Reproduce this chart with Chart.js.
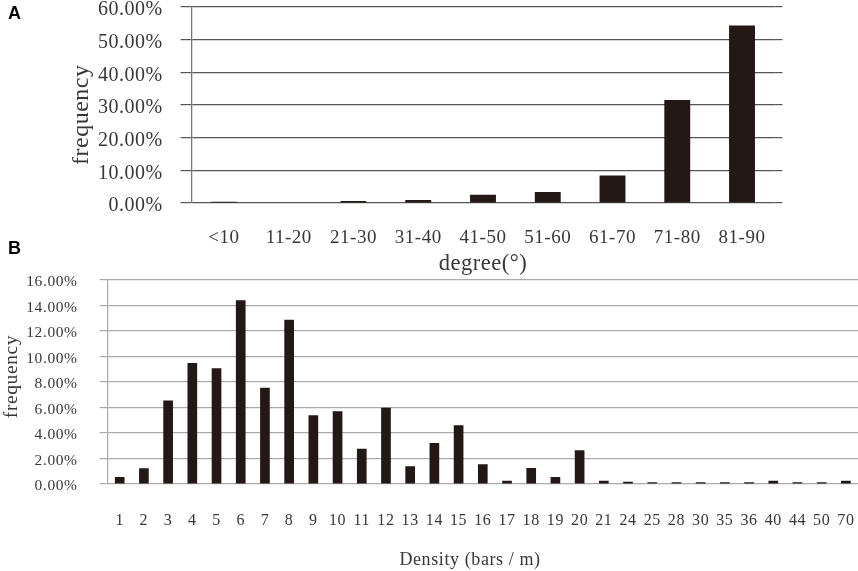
<!DOCTYPE html>
<html>
<head>
<meta charset="utf-8">
<script src="https://cdn.jsdelivr.net/npm/chart.js@4"></script>
<style>
  html, body { margin: 0; padding: 0; background: #fff; }
  #wrap { position: relative; width: 858px; height: 571px; overflow: hidden; }
  canvas { position: absolute; left: 0; }
  #chartA { top: 0; }
  #chartB { top: 268px; }
  .panel { position: absolute; left: 8px; font: bold 18px "Liberation Sans", sans-serif; color: #000; line-height: 18px; }
</style>
</head>
<body>
<div id="wrap">
  <canvas id="chartA" width="858" height="278"></canvas>
  <canvas id="chartB" width="858" height="303"></canvas>
  <div class="panel" style="top:4px">A</div>
  <div class="panel" style="top:239px">B</div>
</div>
<script>
const degreeLabels = ['<10', '11-20', '21-30', '31-40', '41-50', '51-60', '61-70', '71-80', '81-90'];
const degreeValues = [0.4, 0, 0.6, 0.9, 2.5, 3.4, 8.4, 31.5, 54.3];

const densityLabels = ['1', '2', '3', '4', '5', '6', '7', '8', '9', '10', '11', '12', '13', '14', '15', '16',
  '17', '18', '19', '20', '21', '24', '25', '28', '30', '35', '36', '40', '44', '50', '70'];
const densityValues = [0.55, 1.23, 6.55, 9.5, 9.08, 14.42, 7.54, 12.88, 5.39, 5.7, 2.77, 5.99, 1.39, 3.22, 4.6, 1.54,
  0.26, 1.26, 0.55, 2.64, 0.26, 0.18, 0.14, 0.14, 0.14, 0.14, 0.14, 0.26, 0.14, 0.14, 0.26];

const serif = '"Liberation Serif", serif';
const textColor = '#3a3635';
const barColor = '#231815';
const nbsp = n => '\u00a0'.repeat(n);

// fixed axis size, without the extra room chart.js keeps for the end labels
const fixSize = (s, size) => {
  if (s.isHorizontal()) s.height = size; else s.width = size;
  s.paddingLeft = s.paddingRight = s.paddingTop = s.paddingBottom = 0;
};

// looser text, and the grid of chart A runs a bit past the last bar
const chartStyle = {
  id: 'chartStyle',
  beforeDraw(chart) {
    chart.ctx.letterSpacing = chart.options.plugins.chartStyle.spacing;
  },
  beforeDatasetsDraw(chart) {
    const tail = chart.options.plugins.chartStyle.gridTail;
    if (!tail) return;
    const { ctx, chartArea, scales } = chart;
    const width = chart.options.scales.y.grid.lineWidth;
    ctx.save();
    ctx.strokeStyle = chart.options.scales.y.grid.color;
    ctx.lineWidth = width;
    scales.y.ticks.forEach(t => {
      // same pixel snapping as the library's own grid lines
      const y = Math.round(scales.y.getPixelForValue(t.value) - width / 2) + width / 2;
      ctx.beginPath();
      ctx.moveTo(chartArea.right, y);
      ctx.lineTo(chartArea.right + tail, y);
      ctx.stroke();
    });
    ctx.restore();
  }
};

new Chart(document.getElementById('chartA'), {
  type: 'bar',
  plugins: [chartStyle],
  data: {
    labels: degreeLabels,
    datasets: [{ data: degreeValues, backgroundColor: barColor, barPercentage: 1, categoryPercentage: 0.4 }]
  },
  options: {
    responsive: false,
    animation: false,
    layout: { padding: { top: 7, right: 83.6, left: 0, bottom: 0 } },
    plugins: { legend: { display: false }, tooltip: { enabled: false }, chartStyle: { spacing: '0.5px', gridTail: 8 } },
    scales: {
      x: {
        afterFit: s => fixSize(s, 75),
        grid: { display: false },
        border: { display: false },
        ticks: { color: textColor, font: { family: serif, size: 19 }, padding: 16, maxRotation: 0, autoSkip: false },
        title: { display: true, text: 'degree(°)', color: textColor, font: { family: serif, size: 22.5 }, padding: 0 }
      },
      y: {
        min: 0,
        max: 60,
        afterFit: s => fixSize(s, 191.6),
        grid: { color: '#555', lineWidth: 1.2, tickLength: 11, tickColor: '#555' },
        border: { display: true, color: '#777', width: 1.3 },
        ticks: {
          stepSize: 10,
          color: textColor,
          font: { family: serif, size: 20 },
          padding: 18,
          labelOffset: 3,
          callback: v => v.toFixed(2) + '%'
        },
        title: {
          display: true,
          text: 'frequency' + nbsp(3),
          color: textColor,
          font: { family: serif, size: 24 },
          padding: { top: 67, bottom: 0 }
        }
      }
    }
  }
});

new Chart(document.getElementById('chartB'), {
  type: 'bar',
  plugins: [chartStyle],
  data: {
    labels: densityLabels,
    datasets: [{ data: densityValues, backgroundColor: barColor, barPercentage: 1, categoryPercentage: 0.4 }]
  },
  options: {
    responsive: false,
    animation: false,
    layout: { padding: { top: 12, right: 0, left: 0, bottom: 0 } },
    plugins: { legend: { display: false }, tooltip: { enabled: false }, chartStyle: { spacing: '0.6px' } },
    scales: {
      x: {
        afterFit: s => fixSize(s, 87),
        grid: { display: false },
        border: { display: false },
        ticks: { color: textColor, font: { family: serif, size: 16 }, padding: 19, maxRotation: 0, autoSkip: false },
        title: {
          display: true,
          text: 'Density (bars / m)' + nbsp(5),
          color: textColor,
          font: { family: serif, size: 18 },
          padding: 0
        }
      },
      y: {
        min: 0,
        max: 16,
        afterFit: s => fixSize(s, 107.6),
        grid: { color: '#aaa', lineWidth: 1.2, tickLength: 8, tickColor: '#aaa' },
        border: { display: true, color: '#aaa', width: 1.2 },
        ticks: {
          stepSize: 2,
          color: textColor,
          font: { family: serif, size: 15.5 },
          padding: 22,
          labelOffset: 2,
          callback: v => v.toFixed(2) + '%'
        },
        title: {
          display: true,
          text: nbsp(2) + 'frequency',
          color: textColor,
          font: { family: serif, size: 19.5 },
          padding: 0
        }
      }
    }
  }
});
</script>
</body>
</html>
